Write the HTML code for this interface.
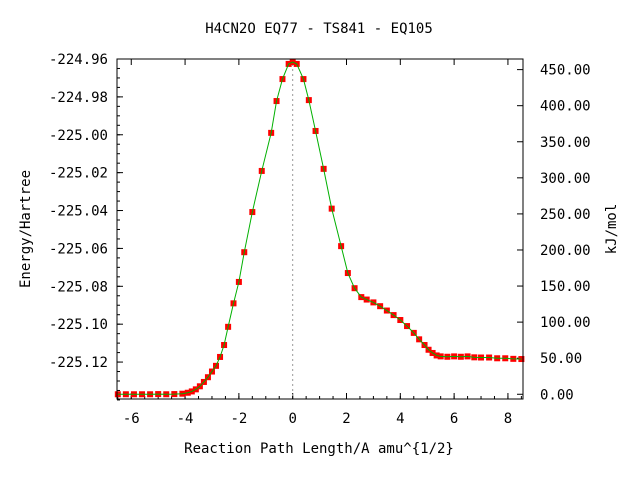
<!DOCTYPE html>
<html><head><meta charset="utf-8"><style>
body{margin:0;background:#fff}
svg text{font-family:"DejaVu Sans Mono","Liberation Mono",monospace;font-size:14px;fill:#000}
</style></head><body>
<svg id="chart" width="640" height="480">
<text x="319" y="33" text-anchor="middle">H4CN2O   EQ77 - TS841 - EQ105</text>
<text x="319" y="453" text-anchor="middle">Reaction Path Length/A amu^{1/2}</text>
<text transform="translate(30,229) rotate(-90)" text-anchor="middle">Energy/Hartree</text>
<text transform="translate(616,229) rotate(-90)" text-anchor="middle">kJ/mol</text>
<g id="axes"></g><g id="marks"></g>
<rect x="117" y="59" width="406" height="340" fill="none" stroke="#000" stroke-width="1"/>
</svg>
<script>
const xs=[-6.5,-6.2,-5.9,-5.6,-5.3,-5.0,-4.7,-4.4,-4.1,-3.9,-3.75,-3.6,-3.45,-3.3,-3.15,-3.0,-2.85,-2.7,-2.55,-2.4,-2.2,-2.0,-1.8,-1.5,-1.15,-0.8,-0.6,-0.38,-0.15,0,0.15,0.4,0.6,0.85,1.15,1.45,1.8,2.05,2.3,2.55,2.75,3.0,3.25,3.5,3.75,4.0,4.25,4.5,4.7,4.9,5.05,5.2,5.35,5.5,5.75,6.0,6.25,6.5,6.75,7.0,7.3,7.6,7.9,8.2,8.5];
const energies=[-225.1370,-225.1370,-225.1370,-225.1370,-225.1370,-225.1369,-225.1370,-225.1369,-225.1367,-225.1362,-225.1355,-225.1344,-225.1328,-225.1305,-225.1280,-225.1250,-225.1220,-225.1173,-225.1110,-225.1014,-225.0890,-225.0777,-225.0620,-225.0408,-225.0191,-224.9990,-224.9822,-224.9706,-224.9626,-224.9616,-224.9626,-224.9706,-224.9817,-224.9980,-225.0180,-225.0390,-225.0588,-225.0730,-225.0810,-225.0857,-225.0870,-225.0885,-225.0905,-225.0928,-225.0952,-225.0978,-225.1010,-225.1046,-225.1080,-225.1110,-225.1135,-225.1152,-225.1165,-225.1170,-225.1172,-225.1170,-225.1172,-225.1170,-225.1175,-225.1176,-225.1176,-225.1180,-225.1180,-225.1183,-225.1184];
const xTicks=[-6,-4,-2,0,2,4,6,8];
const yTicks=[-224.96,-224.98,-225.00,-225.02,-225.04,-225.06,-225.08,-225.10,-225.12];
const kjTicks=[0,50,100,150,200,250,300,350,400,450];
const X0=117,X1=523,Y0=59,Y1=399,xmin=-6.53,xmax=8.56,ymax=-224.96,ymin=-225.1395;
const Emin=-225.1370,HtoKJ=2625.5;
const sx=v=>X0+(v-xmin)/(xmax-xmin)*(X1-X0);
const sy=v=>Y0+(ymax-v)/(ymax-ymin)*(Y1-Y0);
const NS="http://www.w3.org/2000/svg";
const ax=document.getElementById('axes'),mk=document.getElementById('marks');
function mkEl(t,a,p){const e=document.createElementNS(NS,t);for(const k in a)e.setAttribute(k,a[k]);p.appendChild(e);return e;}
xTicks.forEach(v=>{const x=sx(v);
 const l=mkEl('line',{x1:x,x2:x,y1:Y1,y2:Y1-6,stroke:'#000'},ax);
 
 
 const l2=mkEl('line',{x1:x,x2:x,y1:Y0,y2:Y0+6,stroke:'#000'},ax);
 
 
 const t=mkEl('text',{x:x,y:Y1+24,'text-anchor':'middle'},ax);t.textContent=v;
 
 });
for(let v=-6.5;v<=8.5;v+=0.5){const x=sx(v);const m=mkEl('line',{x1:x,x2:x,y1:Y1,y2:Y1-3,stroke:'#000'},ax);
 
 }
yTicks.forEach(v=>{const y=sy(v);
 const l=mkEl('line',{x1:X0,x2:X0+6,y1:y,y2:y,stroke:'#000'},ax);
 
 
 const t=mkEl('text',{x:108,y:y+5,'text-anchor':'end'},ax);t.textContent=v.toFixed(2);
 
 });
for(let v=-224.96;v>-225.14;v-=0.005){const y=sy(v);const m=mkEl('line',{x1:X0,x2:X0+3,y1:y,y2:y,stroke:'#000'},ax);
 
 }
kjTicks.forEach(v=>{const y=sy(Emin+v/HtoKJ);
 const l=mkEl('line',{x1:X1,x2:X1-6,y1:y,y2:y,stroke:'#000'},ax);
 
 
 const t=mkEl('text',{x:540,y:y+5},ax);t.textContent=v.toFixed(2);
 
 });
const ts=mkEl('line',{x1:sx(0),x2:sx(0),y1:Y0,y2:Y1,stroke:'#999','stroke-dasharray':'2,3'},ax);


xs.forEach((v,i)=>{const r=mkEl('rect',{x:sx(v)-3,y:sy(energies[i])-3,width:6,height:6,fill:'#f00'},mk);
 
 });
const pl=mkEl('polyline',{points:xs.map((v,i)=>sx(v)+','+sy(energies[i])).join(' '),fill:'none',stroke:'#00b000','stroke-width':1},mk);


</script>
</body></html>
